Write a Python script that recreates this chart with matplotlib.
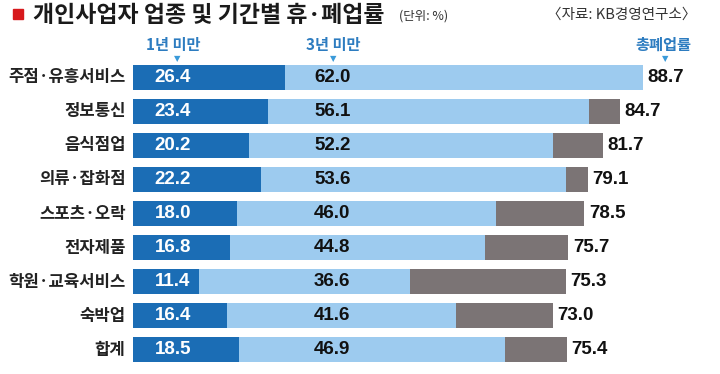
import numpy as np
import matplotlib
matplotlib.use("Agg")
import matplotlib.pyplot as plt
from matplotlib.patches import Rectangle

plt.rcParams["font.family"] = ["Noto Sans CJK KR", "DejaVu Sans"]

# ------------------------------------------------------------------
# Data (단위: %)
# ------------------------------------------------------------------
industries = ["주점·유흥서비스", "정보통신", "음식점업", "의류·잡화점", "스포츠·오락",
              "전자제품", "학원·교육서비스", "숙박업", "합계"]
under_1yr = [26.4, 23.4, 20.2, 22.2, 18.0, 16.8, 11.4, 16.4, 18.5]
under_3yr = [62.0, 56.1, 52.2, 53.6, 46.0, 44.8, 36.6, 41.6, 46.9]
total_closure = [88.7, 84.7, 81.7, 79.1, 78.5, 75.7, 75.3, 73.0, 75.4]

DARK = "#1b6db5"
LIGHT = "#9dcbef"
GRAY = "#7b7475"
HEAD = "#2d7cc0"


def three_year_extent(v):
    # the original graphic draws the 3-year band on its own stretched scale
    return 1.595 * np.asarray(v) - 10.19


PX = 5.75          # pixels per percentage point
X0 = 133           # pixel where bars start
W, H = 720, 374

fig = plt.figure(figsize=(W / 100, H / 100), dpi=100)
ax = fig.add_axes([X0 / W, 1 - 367 / H, 1 - X0 / W, (367 - 60) / H])
ax.set_xlim(0, (W - X0) / PX)
ax.set_ylim(len(industries) - 0.5, -0.5)
ax.axis("off")

y = np.arange(len(industries))
bh = 0.73
ax.barh(y, total_closure, height=bh, color=GRAY)
ax.barh(y, three_year_extent(under_3yr), height=bh, color=LIGHT)
ax.barh(y, under_1yr, height=bh, color=DARK)

num_font = dict(family="Liberation Sans", fontweight="bold", fontsize=13.5)
for i, name in enumerate(industries):
    ax.text(-1.3, i, name, ha="right", va="center", fontsize=12,
            fontweight="bold", color="#222222", clip_on=False)
    ax.text(3.8, i, f"{under_1yr[i]:.1f}", ha="left", va="center",
            color="white", **num_font)
    ax.text(37.8, i, f"{under_3yr[i]:.1f}", ha="right", va="center",
            color="#111111", **num_font)
    ax.text(total_closure[i] + 0.8, i, f"{total_closure[i]:.1f}", ha="left",
            va="center", color="#111111", **num_font)

# ------------------------------------------------------------------
# Header labels with small pointer triangles
# ------------------------------------------------------------------
heads = [("1년 미만", 173, 177), ("3년 미만", 333, 333), ("총폐업률", 663, 665)]
for label, cx, tx in heads:
    fig.text(cx / W, 1 - 45 / H, label, ha="center", va="center",
             fontsize=11, fontweight="bold", color=HEAD)
    fig.text(tx / W, 1 - 59 / H, "▼", ha="center", va="center",
             fontsize=6, color="#3a9ad9", family="DejaVu Sans")

# ------------------------------------------------------------------
# Title and source
# ------------------------------------------------------------------
fig.patches.append(Rectangle((13 / W, 1 - 19 / H), 10 / W, 10 / H,
                             transform=fig.transFigure, color="#d7191c"))
fig.text(33 / W, 1 - 15 / H, "개인사업자 업종 및 기간별 휴·폐업률", ha="left",
         va="center", fontsize=16.5, fontweight="bold", color="#1a1a1a")
fig.text(399 / W, 1 - 16 / H, "(단위: %)", ha="left", va="center",
         fontsize=9, color="#333333")
fig.text(696 / W, 1 - 15 / H, "〈자료: KB경영연구소〉", ha="right", va="center",
         fontsize=10.5, color="#333333")

fig.savefig("out.png", dpi=100)
